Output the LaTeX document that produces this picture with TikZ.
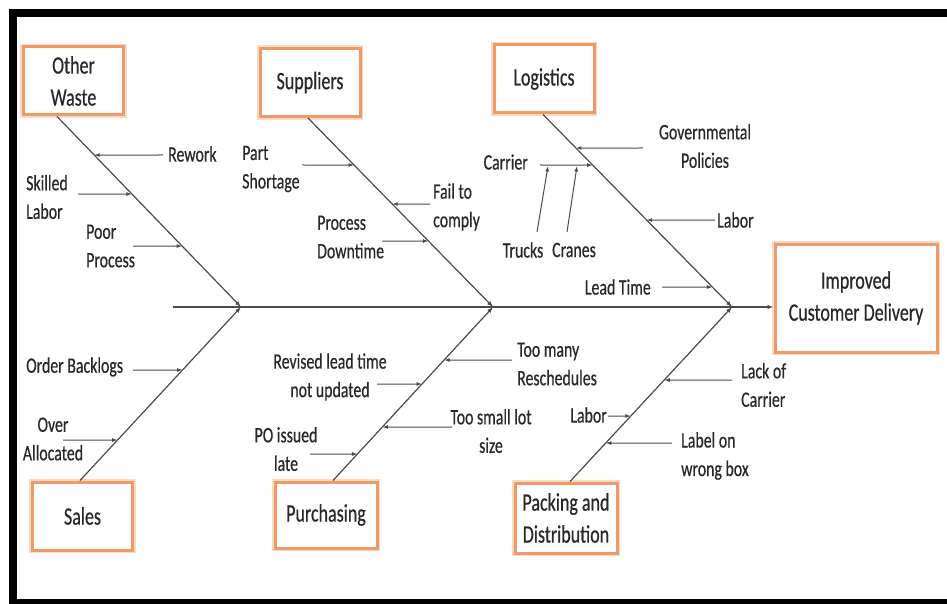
\documentclass[tikz,border=0pt]{standalone}
\usepackage{fontspec}
\setmainfont{Carlito}[FakeStretch=0.72,FakeBold=0.5]
\usetikzlibrary{arrows.meta,calc}

\definecolor{boxedge}{RGB}{238,155,105}
\definecolor{boxglow}{RGB}{251,218,196}
\definecolor{bonegray}{RGB}{75,75,75}
\definecolor{inkgray}{RGB}{40,40,40}

\tikzset{
  catbox/.style={draw=boxedge, line width=3pt, fill=white,
    preaction={draw=boxglow, line width=6.5pt},
    inner sep=0pt, minimum width=100pt, minimum height=68pt, align=center,
    text=inkgray, font=\fontsize{25}{32}\selectfont},
  cause/.style={inner sep=0pt, text=inkgray, font=\fontsize{22}{28.5}\selectfont},
  bone/.style={draw=bonegray, line width=1.2pt,
    -{Latex[length=6pt,width=4.5pt,fill=black]}},
  twig/.style={draw=bonegray, line width=1pt,
    -{Latex[length=5.5pt,width=4pt,fill=black]}},
}

% small cause arrow: name, bone start, bone end, start x, y
\newcommand\twigto[5]{%
  \coordinate (#1-s) at (#4,#5);
  \coordinate (#1-t) at (intersection cs:first line={(#2)--(#3)},
                         second line={(0,#5)--(10,#5)});
  \draw[twig] (#1-s) -- (#1-t);}

\begin{document}
\begin{tikzpicture}[x=1pt,y=-1pt]
\useasboundingbox (0,0) rectangle (947,604);

% frame
\fill[black] (9,9) rectangle (947,17);
\fill[black] (9,9) rectangle (17,604);
\fill[black] (9,599) rectangle (947,604);

% category boxes
\node[catbox] (ow) at (73.5,81) {Other\\Waste};
\node[catbox] (sup) at (310,82.5) {Suppliers};
\node[catbox] (log) at (544,79) {Logistics};
\node[catbox] (sal) at (82.5,516) {Sales};
\node[catbox, minimum width=102pt, minimum height=66pt] (pur) at (326,515) {Purchasing};
\node[catbox, minimum width=102pt, minimum height=70pt] (pkd) at (566,518) {Packing and\\Distribution};
\node[catbox, minimum width=162pt, minimum height=108pt] (eff) at (856,298) {Improved\\Customer Delivery};

% spine and junctions
\coordinate (sp0) at (173,307);
\coordinate (j1) at (241,307);
\coordinate (j2) at (493,307);
\coordinate (j3) at (732,307);
\coordinate (sp1) at (eff.west |- sp0);
\draw[bone] (sp0) -- (sp1);

% bones
\coordinate (owb) at ([xshift=-16.5pt]ow.south);
\coordinate (supb) at ([xshift=-2pt]sup.south);
\coordinate (logb) at ([xshift=-1pt]log.south);
\coordinate (salb) at ([xshift=-2.5pt]sal.north);
\coordinate (purb) at ([xshift=7pt]pur.north);
\coordinate (pkdb) at ([xshift=4pt]pkd.north);
\draw[bone] (owb) -- (j1);
\draw[bone] (salb) -- (j1);
\draw[bone] (supb) -- (j2);
\draw[bone] (purb) -- (j2);
\draw[bone] (logb) -- (j3);
\draw[bone] (pkdb) -- (j3);

% Other Waste causes
\node[cause, anchor=west] (rw) at (168,154) {Rework};
\node[cause, anchor=west, align=left] (sk) at (26,197) {Skilled\\Labor};
\node[cause, anchor=west, align=left] (pp) at (86,246) {Poor\\Process};
\twigto{rwa}{owb}{j1}{163}{155}
\twigto{ska}{owb}{j1}{78}{194}
\twigto{ppa}{owb}{j1}{133}{246}

% Suppliers causes
\node[cause, anchor=west, align=left] (ps) at (242,169) {Part\\Shortage};
\node[cause, anchor=west, align=left] (fc) at (433,207) {Fail to\\comply};
\node[cause, anchor=west, align=left] (pd) at (317,237) {Process\\Downtime};
\twigto{psa}{supb}{j2}{302}{165}
\twigto{fca}{supb}{j2}{430}{204}
\twigto{pda}{supb}{j2}{382}{241}

% Logistics causes
\node[cause, align=center] (gp) at (705,146) {Governmental\\Policies};
\node[cause, anchor=east] (car) at (528,162) {Carrier};
\node[cause] (trk) at (523,250) {Trucks};
\node[cause] (crn) at (574,250) {Cranes};
\node[cause, anchor=west] (lab1) at (717,220) {Labor};
\node[cause, anchor=east] (lt) at (651,287) {Lead Time};
\twigto{gpa}{logb}{j3}{643}{148}
\twigto{cara}{logb}{j3}{540}{165}
\twigto{laba}{logb}{j3}{715}{220}
\twigto{lta}{logb}{j3}{662}{287}
\coordinate (trk-s) at (537,232);
\coordinate (trk-t) at (548,166);
\coordinate (crn-s) at (567,232);
\coordinate (crn-t) at (577,166);
\draw[twig] (trk-s) -- (trk-t);
\draw[twig] (crn-s) -- (crn-t);

% Sales causes
\node[cause, anchor=west] (ob) at (26,367) {Order Backlogs};
\node[cause, align=center] (oa) at (53,439) {Over\\Allocated};
\twigto{oba}{salb}{j1}{133}{370}
\twigto{oaa}{salb}{j1}{63}{440}

% Purchasing causes
\node[cause, align=center] (rl) at (330,377) {Revised lead time\\not updated};
\node[cause, anchor=west, align=left] (tm) at (517,364) {Too many\\Reschedules};
\node[cause, align=center] (ts) at (491,431) {Too small lot\\size};
\node[cause, align=center] (po) at (286,449) {PO issued\\late};
\twigto{rla}{purb}{j2}{377}{384}
\twigto{tma}{purb}{j2}{512}{360}
\twigto{tsa}{purb}{j2}{452}{427}
\twigto{poa}{purb}{j2}{310}{454}

% Packing and Distribution causes
\node[cause, anchor=west, align=left] (lc) at (741,385) {Lack of\\Carrier};
\node[cause, anchor=east] (lab2) at (607,415) {Labor};
\node[cause, anchor=west, align=left] (lw) at (681,456) {Label on\\wrong box};
\twigto{lca}{pkdb}{j3}{732}{380}
\twigto{lab2a}{pkdb}{j3}{608}{416}
\twigto{lwa}{pkdb}{j3}{672}{443}
\end{tikzpicture}
\end{document}
